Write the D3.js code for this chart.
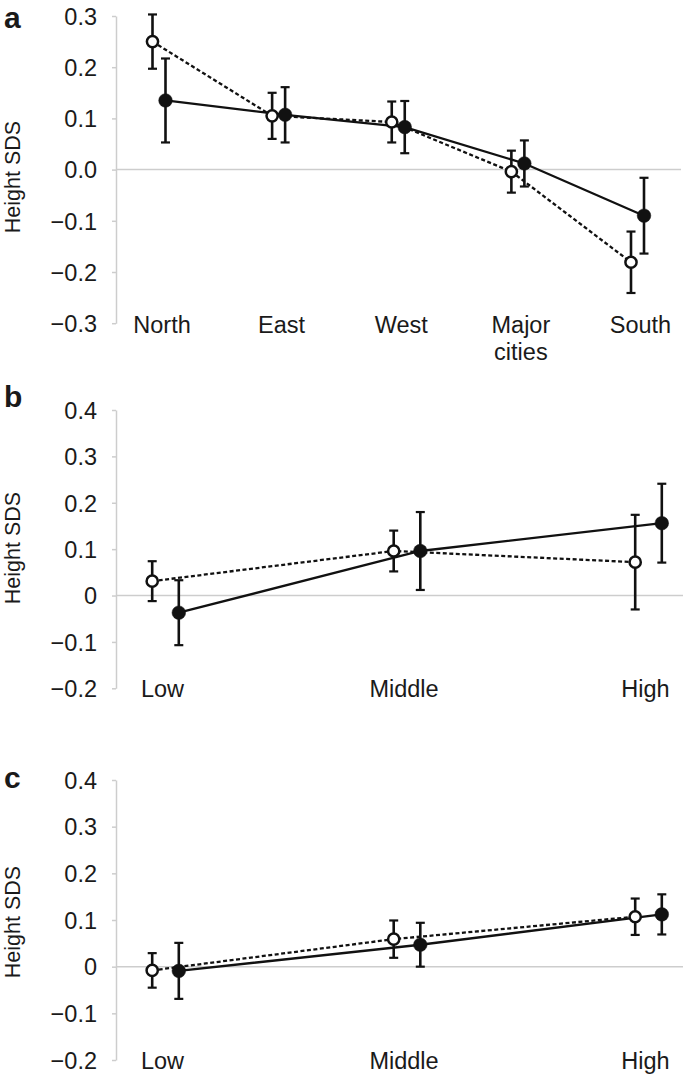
<!DOCTYPE html>
<html><head><meta charset="utf-8">
<script src="https://cdn.jsdelivr.net/npm/d3@7"></script>
<style>
body{margin:0;background:#fff;}
text{font-family:"Liberation Sans",Arial,Helvetica,sans-serif;fill:#1a1a1a;}
</style></head>
<body><svg id="chart" width="685" height="1077"></svg>
<script>
// ---- data ----
const regions = ["North","East","West","Major cities","South"];
const aOpen = [0.25, 0.105, 0.093, -0.004, -0.181];
const aOpenErr = [0.053, 0.045, 0.04, 0.041, 0.06];
const aFilled = [0.135, 0.107, 0.083, 0.012, -0.09];
const aFilledErr = [0.082, 0.054, 0.051, 0.045, 0.074];

const levels = ["Low","Middle","High"];
const bOpen = [0.031, 0.096, 0.072];
const bOpenErr = [0.043, 0.044, 0.102];
const bFilled = [-0.037, 0.096, 0.156];
const bFilledErr = [0.07, 0.084, 0.085];

const cOpen = [-0.008, 0.059, 0.107];
const cOpenErr = [0.037, 0.04, 0.039];
const cFilled = [-0.009, 0.047, 0.112];
const cFilledErr = [0.06, 0.047, 0.043];

const aTicks = [-0.3,-0.2,-0.1,0,0.1,0.2,0.3];
const bcTicks = [-0.2,-0.1,0,0.1,0.2,0.3,0.4];

const svg = d3.select("#chart");
const axisX = 116;
const FS = 23.5;

function panel(cfg){
  const g = svg.append("g");
  const y = d3.scaleLinear().domain(cfg.domain).range(cfg.yRange);
  const x = d3.scalePoint().domain(cfg.cats).range(cfg.xRange);
  // y axis
  const ax = g.append("g").attr("transform",`translate(${axisX},0)`)
    .call(d3.axisLeft(y).tickValues(cfg.ticks).tickSize(4).tickSizeOuter(0).tickPadding(15).tickFormat(cfg.fmt));
  ax.select(".domain").attr("stroke","#cdcdcd").attr("stroke-width",1.5);
  ax.selectAll(".tick line").attr("stroke","#cdcdcd").attr("stroke-width",1.5);
  ax.selectAll(".tick text").attr("font-size",FS).attr("fill","#1a1a1a").attr("dy","0.35em")
    .attr("font-family","'Liberation Sans',Arial,sans-serif");
  // zero line
  g.append("line").attr("x1",axisX).attr("x2",cfg.zeroEnd).attr("y1",y(0)).attr("y2",y(0))
    .attr("stroke","#cdcdcd").attr("stroke-width",1.5);
  // y title
  g.append("text").attr("transform",`translate(20,${cfg.titleY}) rotate(-90)`)
    .attr("text-anchor","middle").attr("font-size",21.5).text("Height SDS");
  // panel letter
  g.append("text").attr("x",4).attr("y",cfg.letterY).attr("font-size",30).attr("font-weight","bold")
    .attr("fill","#000").text(cfg.letter);
  // category labels
  cfg.cats.forEach((c,i)=>{
    const parts = c.split(" ");
    const t = g.append("text").attr("text-anchor","middle").attr("font-size",FS)
      .attr("x",x(c)+cfg.labelShift).attr("y",cfg.labelY);
    parts.forEach((p,j)=>{
      t.append("tspan").attr("x",x(c)+cfg.labelShift).attr("dy",j===0?0:"1.15em").text(p);
    });
  });
  const series = [
    {vals:cfg.open, err:cfg.openErr, off:-cfg.off, dash:"4,2.5", filled:false},
    {vals:cfg.filled, err:cfg.filledErr, off:cfg.off, dash:null, filled:true}
  ];
  const line = d3.line().x(d=>d[0]).y(d=>d[1]);
  series.forEach(s=>{
    const pts = cfg.cats.map((c,i)=>[x(c)+s.off, y(s.vals[i])]);
    g.append("path").attr("d",line(pts)).attr("fill","none").attr("stroke","#111")
      .attr("stroke-width",2.3).attr("stroke-dasharray",s.dash);
  });
  series.forEach(s=>{
    cfg.cats.forEach((c,i)=>{
      const cx = x(c)+s.off;
      const top = y(s.vals[i]+s.err[i]), bot = y(s.vals[i]-s.err[i]);
      g.append("line").attr("x1",cx).attr("x2",cx).attr("y1",top).attr("y2",bot)
        .attr("stroke","#111").attr("stroke-width",2.6);
      [top,bot].forEach(yy=>g.append("line").attr("x1",cx-4.5).attr("x2",cx+4.5)
        .attr("y1",yy).attr("y2",yy).attr("stroke","#111").attr("stroke-width",2.2));
    });
  });
  series.forEach(s=>{
    cfg.cats.forEach((c,i)=>{
      g.append("circle").attr("cx",x(c)+s.off).attr("cy",y(s.vals[i]))
        .attr("r", s.filled?6.8:5.6)
        .attr("fill", s.filled?"#111":"#fff")
        .attr("stroke","#111").attr("stroke-width", s.filled?0.5:2.5);
    });
  });
}

const fmtA = d3.format(".1f");
const fmtBC = d => d===0 ? "0" : d3.format(".1f")(d);

panel({cats:regions, domain:[-0.3,0.3], yRange:[323.2,16], xRange:[159,637.5], ticks:aTicks, fmt:fmtA,
  open:aOpen, openErr:aOpenErr, filled:aFilled, filledErr:aFilledErr, off:6.5, zeroEnd:681,
  letter:"a", letterY:28, labelY:333, labelShift:3, titleY:177});
panel({cats:levels, domain:[-0.2,0.4], yRange:[688.3,410], xRange:[165.5,648.5], ticks:bcTicks, fmt:fmtBC,
  open:bOpen, openErr:bOpenErr, filled:bFilled, filledErr:bFilledErr, off:13.3, zeroEnd:683,
  letter:"b", letterY:407, labelY:697, labelShift:-3, titleY:548});
panel({cats:levels, domain:[-0.2,0.4], yRange:[1060,780], xRange:[165.5,648.5], ticks:bcTicks, fmt:fmtBC,
  open:cOpen, openErr:cOpenErr, filled:cFilled, filledErr:cFilledErr, off:13.3, zeroEnd:683,
  letter:"c", letterY:788, labelY:1069, labelShift:-3, titleY:922});
</script></body></html>
